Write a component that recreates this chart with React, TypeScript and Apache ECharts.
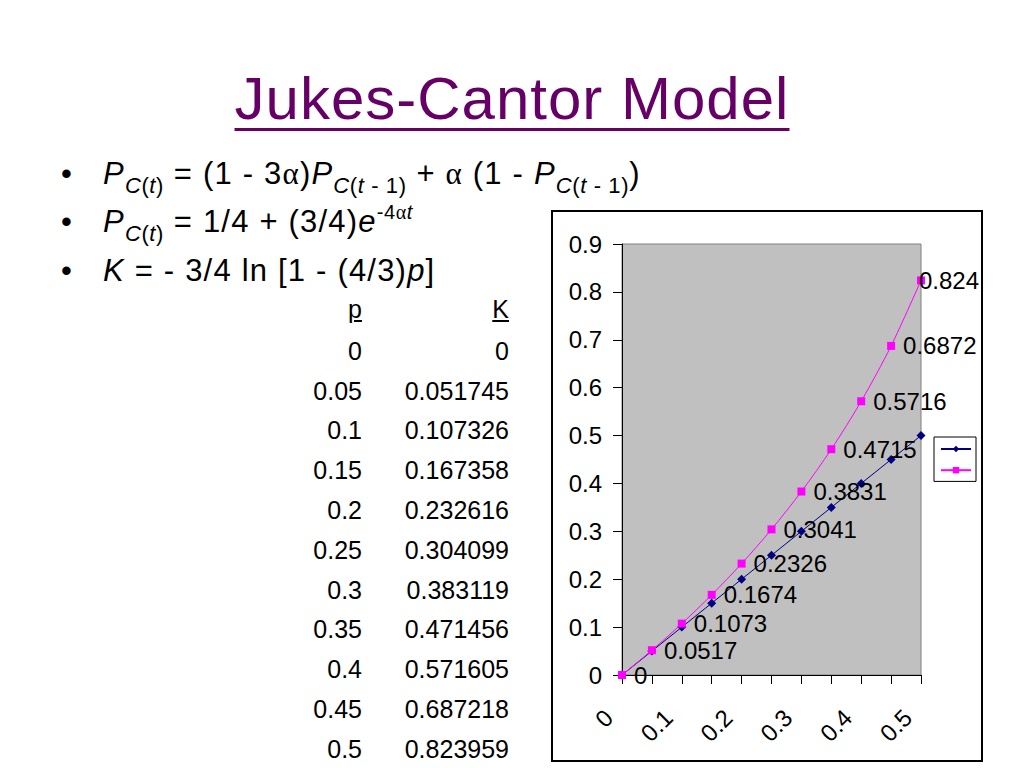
import React, { useEffect, useRef } from "react";
import * as echarts from "echarts";

const FONT = "'Liberation Sans', Arial, sans-serif";

// Data
const pValues = [0, 0.05, 0.1, 0.15, 0.2, 0.25, 0.3, 0.35, 0.4, 0.45, 0.5];
const kValues = [0, 0.051745, 0.107326, 0.167358, 0.232616, 0.304099, 0.383119, 0.471456, 0.571605, 0.687218, 0.823959];
const seriesNames = ["p", "K"];
const tableHeaders = ["p", "K"];
const titleText = "Jukes-Cantor Model";

const fmt4 = (v: number) => String(Number(v.toFixed(4)));

function Chart() {
  const ref = useRef<HTMLDivElement>(null);
  useEffect(() => {
    if (!ref.current) return;
    const chart = echarts.init(ref.current, undefined, { renderer: "svg" });
    const last = pValues.length - 1;
    const pinkData = pValues.map((p, i) =>
      i === last ? { value: [p, kValues[i]], label: { offset: [-14, 0] } } : { value: [p, kValues[i]] }
    );
    const blueData = pValues.map((p) => [p, p]);
    chart.setOption({
      animation: false,
      textStyle: { fontFamily: FONT },
      graphic: [
        {
          type: "rect",
          shape: { x: 552, y: 211, width: 430, height: 550 },
          style: { fill: "none", stroke: "#000", lineWidth: 2 },
          z: 0,
        },
      ],
      grid: {
        left: 622,
        top: 244,
        width: 299,
        height: 431,
        show: true,
        backgroundColor: "#C0C0C0",
        borderColor: "#808080",
        borderWidth: 1,
        containLabel: false,
      },
      legend: {
        orient: "vertical",
        left: 934,
        top: 437,
        padding: [8, 4, 8, 6],
        itemWidth: 30,
        itemHeight: 8,
        itemGap: 14,
        borderColor: "#000",
        borderWidth: 1,
        backgroundColor: "#fff",
        data: seriesNames,
        formatter: () => "",
        textStyle: { fontSize: 1 },
      },
      xAxis: {
        type: "value",
        min: 0,
        max: 0.5,
        interval: 0.05,
        axisLine: { show: true, onZero: false, lineStyle: { color: "#000", width: 1 } },
        axisTick: { show: true, inside: false, length: 9, lineStyle: { color: "#000" } },
        splitLine: { show: false },
        axisLabel: {
          rotate: 45,
          margin: 52,
          fontSize: 24,
          color: "#000",
          fontFamily: FONT,
          verticalAlign: "bottom",
          lineHeight: 38,
          formatter: (v: number) => (Math.round(v * 100) % 10 === 0 ? String(Math.round(v * 10) / 10) : ""),
        },
      },
      yAxis: {
        type: "value",
        min: 0,
        max: 0.9,
        interval: 0.1,
        axisLine: { show: true, onZero: false, lineStyle: { color: "#000", width: 1 } },
        axisTick: { show: true, inside: false, length: 9, lineStyle: { color: "#000" } },
        splitLine: { show: false },
        axisLabel: {
          margin: 20,
          fontSize: 24,
          color: "#000",
          fontFamily: FONT,
          formatter: (v: number) => String(Math.round(v * 10) / 10),
        },
      },
      series: [
        {
          name: seriesNames[0],
          type: "line",
          data: blueData,
          symbol: "diamond",
          symbolSize: 9,
          color: "#000080",
          lineStyle: { color: "#000080", width: 1 },
          itemStyle: { color: "#000080" },
        },
        {
          name: seriesNames[1],
          type: "line",
          data: pinkData,
          symbol: "rect",
          symbolSize: 8,
          smooth: 0.3,
          color: "#FF00FF",
          lineStyle: { color: "#FF00FF", width: 1 },
          itemStyle: { color: "#FF00FF" },
          label: {
            show: true,
            position: "right",
            distance: 8,
            fontSize: 24,
            color: "#000",
            fontFamily: FONT,
            formatter: (p: any) => fmt4(p.value[1]),
          },
        },
      ],
    });
    return () => chart.dispose();
  }, []);
  return <div ref={ref} style={{ position: "absolute", left: 0, top: 0, width: 1024, height: 768 }} />;
}

const baseTop = (baseline: number, fs: number) => baseline - 0.8465 * fs;

const subStyle: React.CSSProperties = { fontSize: 22, verticalAlign: "-9px", lineHeight: 0, letterSpacing: 0.6 };
const supStyle: React.CSSProperties = { fontSize: 20, verticalAlign: "13px", lineHeight: 0, letterSpacing: 0.6 };
const greek: React.CSSProperties = { fontFamily: "'Liberation Serif', 'DejaVu Serif', serif" };

function Alpha() {
  return <span style={greek}>α</span>;
}

function SubC(props: { minus?: boolean }) {
  return (
    <span style={subStyle}>
      <i>C</i>(<i>t</i>
      {props.minus ? " - 1" : ""})
    </span>
  );
}

function Slide() {
  const bulletFs = 31;
  const lines = [184, 232, 281];
  const lineStyle = (b: number): React.CSSProperties => ({
    position: "absolute",
    left: 103,
    top: baseTop(b, bulletFs),
    fontSize: bulletFs,
    lineHeight: `${bulletFs}px`,
    letterSpacing: 1.2,
    whiteSpace: "nowrap",
    fontFamily: FONT,
    color: "#000",
  });
  const bulletStyle = (b: number): React.CSSProperties => ({
    position: "absolute",
    left: 61,
    top: baseTop(b, bulletFs),
    fontSize: bulletFs,
    lineHeight: `${bulletFs}px`,
    fontFamily: FONT,
    color: "#000",
  });
  const tableFs = 25;
  const rowBase = (i: number) => 360 + i * 39.8;
  const cell = (right: number, b: number, underline = false): React.CSSProperties => ({
    position: "absolute",
    left: 0,
    width: right,
    textAlign: "right",
    top: baseTop(b, tableFs),
    fontSize: tableFs,
    lineHeight: `${tableFs}px`,
    fontFamily: FONT,
    color: "#000",
    whiteSpace: "nowrap",
    textDecoration: underline ? "underline" : "none",
  });
  return (
    <div style={{ position: "absolute", left: 0, top: 0, width: 1024, height: 768, pointerEvents: "none" }}>
      <div
        style={{
          position: "absolute",
          left: 0,
          width: 1024,
          top: baseTop(120, 60),
          textAlign: "center",
          fontSize: 60,
          lineHeight: "60px",
          letterSpacing: 1,
          fontFamily: FONT,
          color: "#660066",
          textDecoration: "underline",
          textDecorationThickness: "3px",
          textUnderlineOffset: "9px",
          whiteSpace: "nowrap",
        }}
      >
        {titleText}
      </div>
      {lines.map((b, i) => (
        <div key={"b" + i} style={bulletStyle(b)}>
          •
        </div>
      ))}
      <div style={lineStyle(lines[0])}>
        <i>P</i>
        <SubC /> = (1 - 3<Alpha />)<i>P</i>
        <SubC minus /> + <Alpha /> (1 - <i>P</i>
        <SubC minus />)
      </div>
      <div style={lineStyle(lines[1])}>
        <i>P</i>
        <SubC /> = 1/4 + (3/4)<i>e</i>
        <span style={supStyle}>
          -4<Alpha />
          <i>t</i>
        </span>
      </div>
      <div style={lineStyle(lines[2])}>
        <i>K</i> = - 3/4 ln [1 - (4/3)<i>p</i>]
      </div>
      <div style={cell(362, 318, true)}>{tableHeaders[0]}</div>
      <div style={cell(509, 318, true)}>{tableHeaders[1]}</div>
      {pValues.map((p, i) => (
        <div key={"p" + i} style={cell(362, rowBase(i))}>
          {String(p)}
        </div>
      ))}
      {kValues.map((k, i) => (
        <div key={"k" + i} style={cell(509, rowBase(i))}>
          {String(k)}
        </div>
      ))}
    </div>
  );
}

export default function App() {
  return (
    <div style={{ position: "absolute", left: 0, top: 0, width: 1024, height: 768, background: "#fff", overflow: "hidden" }}>
      <Chart />
      <Slide />
    </div>
  );
}
